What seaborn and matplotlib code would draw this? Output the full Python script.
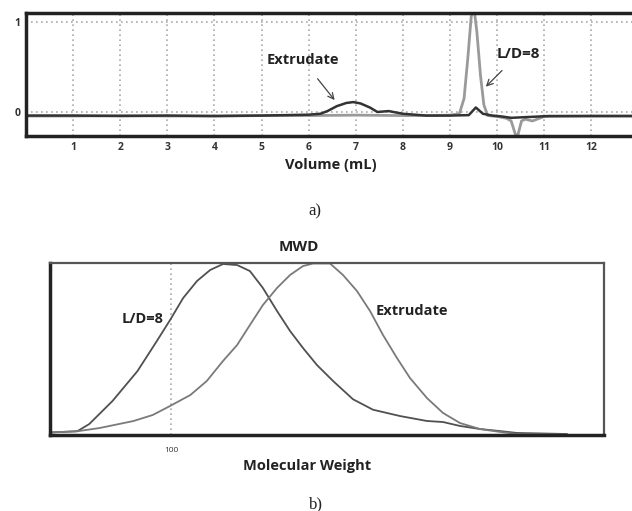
import matplotlib
matplotlib.use("Agg")
import matplotlib.pyplot as plt
import seaborn as sns
import numpy as np
import pandas as pd

# ---- Panel a) chromatogram data ----
vol_extrudate = [0, 1, 2, 3, 4, 5, 5.5, 6.0, 6.25, 6.4, 6.6, 6.8, 6.95, 7.1, 7.3, 7.46, 7.7, 8.0, 8.5,
                 9.0, 9.4, 9.55, 9.7, 9.9, 10.1, 10.3, 10.5, 10.7, 10.9, 11.1, 12, 13]
sig_extrudate = [-0.04, -0.04, -0.045, -0.04, -0.045, -0.04, -0.035, -0.03, -0.02, 0.01, 0.065, 0.10, 0.11,
                 0.095, 0.05, 0.0, 0.01, -0.02, -0.04, -0.04, -0.035, 0.05, -0.02, -0.04, -0.05, -0.065,
                 -0.06, -0.055, -0.05, -0.045, -0.045, -0.045]

vol_ld8 = [0, 1, 2, 3, 4, 5, 6, 7, 8, 8.5, 9.0, 9.2, 9.3, 9.38, 9.45, 9.5, 9.57, 9.65, 9.72, 9.8,
           10.0, 10.2, 10.3, 10.42, 10.52, 10.6, 10.75, 10.9, 11.0, 12, 13]
sig_ld8 = [-0.045, -0.045, -0.04, -0.045, -0.045, -0.04, -0.04, -0.035, -0.04, -0.04, -0.035, -0.02,
           0.15, 0.6, 1.05, 1.2, 0.9, 0.4, 0.08, -0.04, -0.05, -0.07, -0.1, -0.3, -0.1, -0.08, -0.1,
           -0.07, -0.05, -0.045, -0.045]

vol_ticks = list(range(1, 13))

# ---- Panel b) molecular weight distribution ----
mw_ld8 = [25, 34, 39, 51, 68, 85, 99, 115, 135, 157, 182, 214, 248, 288, 339, 394, 457, 537, 646,
          813, 1023, 1396, 1905, 2291, 2786, 3508, 4416, 5370, 9550]
mwd_ld8 = [0.012, 0.019, 0.061, 0.196, 0.371, 0.547, 0.67, 0.798, 0.898, 0.962, 0.997, 0.991, 0.956,
           0.857, 0.722, 0.605, 0.506, 0.406, 0.313, 0.206, 0.145, 0.108, 0.079, 0.073, 0.05, 0.032,
           0.02, 0.009, 0.003]

mw_extrudate = [25, 34, 44, 65, 81, 99, 125, 151, 182, 214, 248, 288, 339, 394, 457, 513, 624, 724,
                851, 989, 1148, 1349, 1567, 1905, 2291, 2786, 3508, 4416, 5370, 9550]
mwd_extrudate = [0.012, 0.019, 0.038, 0.079, 0.114, 0.167, 0.231, 0.313, 0.43, 0.523, 0.64, 0.757,
                 0.857, 0.933, 0.985, 1.0, 1.0, 0.933, 0.839, 0.722, 0.582, 0.447, 0.33, 0.213, 0.126,
                 0.067, 0.032, 0.015, 0.003, 0.0]

mw_ticks = [100]

df_a = pd.concat([
    pd.DataFrame({"vol": vol_ld8, "sig": sig_ld8, "s": "L/D=8"}),
    pd.DataFrame({"vol": vol_extrudate, "sig": sig_extrudate, "s": "Extrudate"}),
])
df_b = pd.concat([
    pd.DataFrame({"mw": mw_ld8, "y": mwd_ld8, "s": "L/D=8"}),
    pd.DataFrame({"mw": mw_extrudate, "y": mwd_extrudate, "s": "Extrudate"}),
])

sns.set_style("white")
plt.rcParams['font.family'] = ['Open Sans', 'DejaVu Sans']

W, H = 632, 511
fig = plt.figure(figsize=(W / 100, H / 100), dpi=100)

def fx(px):
    return px / W

def fy(py):
    return 1 - py / H

grid_kw = dict(color="#aaaaaa", lw=1.2, ls=(0, (1, 2)), zorder=0)
txt_col = "#222222"

# ---------- Top axes ----------
ax1 = fig.add_axes([fx(26), fy(136), fx(636) - fx(26), fy(13) - fy(136)])
sns.lineplot(data=df_a[df_a.s == "L/D=8"], x="vol", y="sig", ax=ax1, color="#9a9a9a", lw=2.0,
             estimator=None, sort=False, legend=False)
sns.lineplot(data=df_a[df_a.s == "Extrudate"], x="vol", y="sig", ax=ax1, color="#333333", lw=1.8,
             estimator=None, sort=False, legend=False)
ax1.set_xlim(0, 12.95)
ax1.set_ylim(-0.267, 1.1)
for v in vol_ticks:
    ax1.axvline(v, **grid_kw)
for v in [0, 1]:
    ax1.axhline(v, **grid_kw)
ax1.set_xticks(vol_ticks)
ax1.set_xticklabels([str(v) for v in vol_ticks], fontsize=7.5, fontweight="bold", color="#333333")
ax1.set_yticks([0, 1])
ax1.set_yticklabels(["0", "1"], fontsize=7.5, fontweight="bold", color="#333333")
ax1.tick_params(length=0, pad=4)
ax1.set_xlabel("Volume (mL)", fontsize=10.5, fontweight="bold", color=txt_col, labelpad=4)
ax1.set_ylabel("")
for side in ["left", "top", "bottom"]:
    ax1.spines[side].set_linewidth(2.5)
    ax1.spines[side].set_color("#222222")
ax1.spines["right"].set_visible(False)

ax1.annotate("Extrudate", xy=(6.57, 0.12), xytext=(5.87, 0.58), ha="center", va="center",
             fontsize=10.5, fontweight="bold", color=txt_col,
             arrowprops=dict(arrowstyle="->", color="#444444", lw=0.9, shrinkA=8, shrinkB=1))
ax1.annotate("L/D=8", xy=(9.74, 0.27), xytext=(10.45, 0.64), ha="center", va="center",
             fontsize=11, fontweight="bold", color=txt_col,
             arrowprops=dict(arrowstyle="->", color="#444444", lw=0.9, shrinkA=6, shrinkB=1))

fig.text(fx(315), fy(211), "a)", ha="center", va="center", fontsize=12,
         family=["Liberation Serif"], color=txt_col)

# ---------- Bottom axes ----------
ax2 = fig.add_axes([fx(50), fy(434.5), fx(604) - fx(50), fy(263.5) - fy(434.5)])
sns.lineplot(data=df_b[df_b.s == "L/D=8"], x="mw", y="y", ax=ax2, color="#505050", lw=1.3,
             estimator=None, sort=False, legend=False)
sns.lineplot(data=df_b[df_b.s == "Extrudate"], x="mw", y="y", ax=ax2, color="#7a7a7a", lw=1.3,
             estimator=None, sort=False, legend=False)
ax2.set_xscale("log")
ax2.set_xlim(10 ** 1.395, 10 ** 4.165)
ax2.set_ylim(0, 1.0)
ax2.axvline(100, **grid_kw)
ax2.set_xticks(mw_ticks)
ax2.set_xticklabels([str(v) for v in mw_ticks], fontsize=6, color="#333333")
ax2.minorticks_off()
ax2.set_yticks([])
ax2.tick_params(length=0, pad=9)
ax2.set_xlabel("")
ax2.set_ylabel("")
for side in ["left", "bottom"]:
    ax2.spines[side].set_linewidth(2.5)
    ax2.spines[side].set_color("#222222")
for side in ["top", "right"]:
    ax2.spines[side].set_linewidth(1.6)
    ax2.spines[side].set_color("#555555")

fig.text(fx(299), fy(247), "MWD", ha="center", va="center", fontsize=11, fontweight="bold",
         color=txt_col)
fig.text(fx(307), fy(466), "Molecular Weight", ha="center", va="center", fontsize=10.5,
         fontweight="bold", color=txt_col)
fig.text(fx(143), fy(319), "L/D=8", ha="center", va="center", fontsize=10.5, fontweight="bold",
         color=txt_col)
fig.text(fx(412), fy(311), "Extrudate", ha="center", va="center", fontsize=10.5, fontweight="bold",
         color=txt_col)

fig.text(fx(316), fy(504), "b)", ha="center", va="center", fontsize=12,
         family=["Liberation Serif"], color=txt_col)

fig.savefig("out.png", dpi=100, facecolor="white")
